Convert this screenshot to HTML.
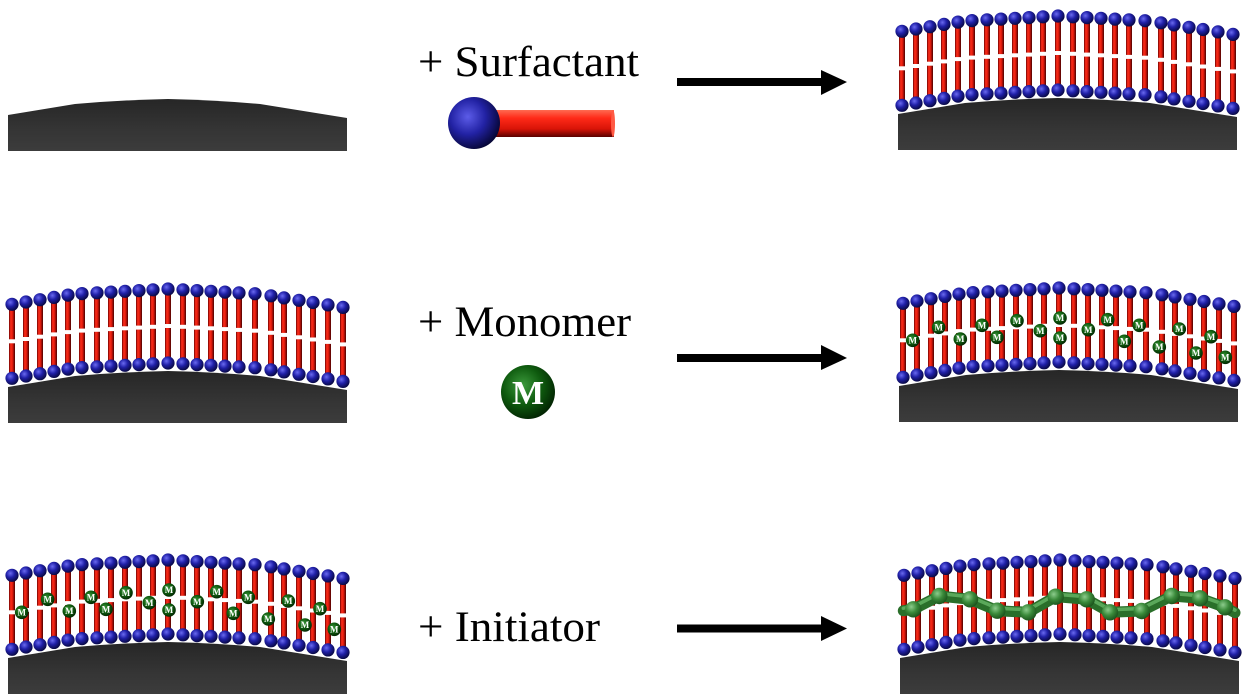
<!DOCTYPE html>
<html>
<head>
<meta charset="utf-8">
<style>
html,body{margin:0;padding:0;background:#fff;}
svg{display:block;}
</style>
</head>
<body>
<svg width="1242" height="700" viewBox="0 0 1242 700" xmlns="http://www.w3.org/2000/svg">
<defs>
  <linearGradient id="tg" x1="0" y1="0" x2="1" y2="0">
    <stop offset="0" stop-color="#700000"/>
    <stop offset="0.3" stop-color="#ff2e1a"/>
    <stop offset="0.6" stop-color="#dd1a0c"/>
    <stop offset="1" stop-color="#4a0000"/>
  </linearGradient>
  <radialGradient id="hg" cx="0.38" cy="0.35" r="0.7">
    <stop offset="0" stop-color="#6a6af0"/>
    <stop offset="0.45" stop-color="#2020a8"/>
    <stop offset="1" stop-color="#06063a"/>
  </radialGradient>
  <radialGradient id="mg" cx="0.4" cy="0.38" r="0.65">
    <stop offset="0" stop-color="#3c9a3c"/>
    <stop offset="0.55" stop-color="#0e5a0e"/>
    <stop offset="1" stop-color="#022402"/>
  </radialGradient>
  <radialGradient id="pg" cx="0.38" cy="0.35" r="0.7">
    <stop offset="0" stop-color="#8ccc8c"/>
    <stop offset="0.5" stop-color="#3a8a3a"/>
    <stop offset="1" stop-color="#1a4f1a"/>
  </radialGradient>
  <linearGradient id="sg" x1="0" y1="0" x2="0" y2="1">
    <stop offset="0" stop-color="#262626"/>
    <stop offset="0.6" stop-color="#353535"/>
    <stop offset="1" stop-color="#3c3c3c"/>
  </linearGradient>
  <linearGradient id="rod" x1="0" y1="0" x2="0" y2="1">
    <stop offset="0" stop-color="#ff6a50"/>
    <stop offset="0.3" stop-color="#ff2a18"/>
    <stop offset="0.7" stop-color="#d81408"/>
    <stop offset="1" stop-color="#5a0000"/>
  </linearGradient>
  <radialGradient id="ball" cx="0.38" cy="0.38" r="0.68">
    <stop offset="0" stop-color="#5c5ce8"/>
    <stop offset="0.5" stop-color="#2222a4"/>
    <stop offset="1" stop-color="#04042e"/>
  </radialGradient>

  <path id="sub" d="M0,16 L67,5 Q113,1 160,0 Q206,1 252,5 L339,19 V52 H0 Z" fill="url(#sg)"/>

  <g id="lp">
    <rect x="-3" y="0" width="6" height="35" fill="url(#tg)"/>
    <rect x="-3" y="39" width="6" height="35" fill="url(#tg)"/>
    <circle cx="0" cy="0" r="6.6" fill="url(#hg)"/>
    <circle cx="0" cy="74" r="6.6" fill="url(#hg)"/>
  </g>

  <g id="bl">
    <use href="#sub"/>
    <use href="#lp" x="4" y="-66.7"/>
    <use href="#lp" x="18" y="-69"/>
    <use href="#lp" x="32" y="-71.3"/>
    <use href="#lp" x="46" y="-73.6"/>
    <use href="#lp" x="60" y="-75.9"/>
    <use href="#lp" x="74" y="-77.4"/>
    <use href="#lp" x="89" y="-78.2"/>
    <use href="#lp" x="103" y="-78.9"/>
    <use href="#lp" x="117" y="-79.7"/>
    <use href="#lp" x="131" y="-80.4"/>
    <use href="#lp" x="145" y="-81.2"/>
    <use href="#lp" x="160" y="-82"/>
    <use href="#lp" x="175" y="-81.2"/>
    <use href="#lp" x="189" y="-80.4"/>
    <use href="#lp" x="203" y="-79.7"/>
    <use href="#lp" x="217" y="-78.9"/>
    <use href="#lp" x="231" y="-78.1"/>
    <use href="#lp" x="247" y="-77.3"/>
    <use href="#lp" x="263" y="-75.2"/>
    <use href="#lp" x="276" y="-73.1"/>
    <use href="#lp" x="291" y="-70.7"/>
    <use href="#lp" x="305" y="-68.5"/>
    <use href="#lp" x="320" y="-66.1"/>
    <use href="#lp" x="335" y="-63.6"/>
  </g>
</defs>

<!-- Row 1 -->
<use href="#sub" x="8" y="99"/>
<text x="418" y="76" font-family="Liberation Serif, serif" font-size="43" fill="#000" textLength="221" lengthAdjust="spacingAndGlyphs">+ Surfactant</text>
<rect x="494" y="110" width="120" height="27" fill="url(#rod)"/>
<ellipse cx="613" cy="123.5" rx="2" ry="13.5" fill="#ff5a44"/>
<circle cx="474" cy="123" r="26" fill="url(#ball)"/>
<rect x="677" y="78" width="146" height="8" fill="#000"/>
<polygon points="821,70 847,82 821,95" fill="#000"/>
<use href="#bl" x="898" y="98"/>

<!-- Row 2 -->
<use href="#bl" x="8" y="371"/>
<text x="418" y="336" font-family="Liberation Serif, serif" font-size="43" fill="#000" textLength="213" lengthAdjust="spacingAndGlyphs">+ Monomer</text>
<circle cx="528" cy="392" r="27" fill="url(#mg)"/>
<text x="528" y="404" font-family="Liberation Serif, serif" font-size="34" font-weight="bold" fill="#fff" text-anchor="middle">M</text>
<rect x="677" y="354" width="146" height="8" fill="#000"/>
<polygon points="821,345 847,358 821,370" fill="#000"/>
<use href="#bl" x="899" y="370"/>
<g transform="translate(899,370)" font-family="Liberation Serif, serif" font-size="9" font-weight="bold" fill="#fff" text-anchor="middle">
  <circle cx="13.7" cy="-29.7" r="6.8" fill="url(#mg)"/><text x="13.7" y="-26.6">M</text>
  <circle cx="39.7" cy="-42.7" r="6.8" fill="url(#mg)"/><text x="39.7" y="-39.6">M</text>
  <circle cx="61.3" cy="-31" r="6.8" fill="url(#mg)"/><text x="61.3" y="-27.9">M</text>
  <circle cx="83" cy="-44.7" r="6.8" fill="url(#mg)"/><text x="83" y="-41.6">M</text>
  <circle cx="98" cy="-32.7" r="6.8" fill="url(#mg)"/><text x="98" y="-29.6">M</text>
  <circle cx="118" cy="-49.3" r="6.8" fill="url(#mg)"/><text x="118" y="-46.2">M</text>
  <circle cx="141.3" cy="-39.3" r="6.8" fill="url(#mg)"/><text x="141.3" y="-36.2">M</text>
  <circle cx="161" cy="-52" r="6.8" fill="url(#mg)"/><text x="161" y="-48.9">M</text>
  <circle cx="161" cy="-32" r="6.8" fill="url(#mg)"/><text x="161" y="-28.9">M</text>
  <circle cx="189.3" cy="-40.3" r="6.8" fill="url(#mg)"/><text x="189.3" y="-37.2">M</text>
  <circle cx="208.7" cy="-50.3" r="6.8" fill="url(#mg)"/><text x="208.7" y="-47.2">M</text>
  <circle cx="225.3" cy="-28.7" r="6.8" fill="url(#mg)"/><text x="225.3" y="-25.6">M</text>
  <circle cx="240.3" cy="-44.7" r="6.8" fill="url(#mg)"/><text x="240.3" y="-41.6">M</text>
  <circle cx="260.3" cy="-23" r="6.8" fill="url(#mg)"/><text x="260.3" y="-19.9">M</text>
  <circle cx="280.3" cy="-41" r="6.8" fill="url(#mg)"/><text x="280.3" y="-37.9">M</text>
  <circle cx="297" cy="-17" r="6.8" fill="url(#mg)"/><text x="297" y="-13.9">M</text>
  <circle cx="312" cy="-33.3" r="6.8" fill="url(#mg)"/><text x="312" y="-30.2">M</text>
  <circle cx="326.3" cy="-12.7" r="6.8" fill="url(#mg)"/><text x="326.3" y="-9.6">M</text>
</g>

<!-- Row 3 -->
<use href="#bl" x="8" y="642"/>
<g transform="translate(8,642)" font-family="Liberation Serif, serif" font-size="9" font-weight="bold" fill="#fff" text-anchor="middle">
  <circle cx="13.7" cy="-29.7" r="6.8" fill="url(#mg)"/><text x="13.7" y="-26.6">M</text>
  <circle cx="39.7" cy="-42.7" r="6.8" fill="url(#mg)"/><text x="39.7" y="-39.6">M</text>
  <circle cx="61.3" cy="-31" r="6.8" fill="url(#mg)"/><text x="61.3" y="-27.9">M</text>
  <circle cx="83" cy="-44.7" r="6.8" fill="url(#mg)"/><text x="83" y="-41.6">M</text>
  <circle cx="98" cy="-32.7" r="6.8" fill="url(#mg)"/><text x="98" y="-29.6">M</text>
  <circle cx="118" cy="-49.3" r="6.8" fill="url(#mg)"/><text x="118" y="-46.2">M</text>
  <circle cx="141.3" cy="-39.3" r="6.8" fill="url(#mg)"/><text x="141.3" y="-36.2">M</text>
  <circle cx="161" cy="-52" r="6.8" fill="url(#mg)"/><text x="161" y="-48.9">M</text>
  <circle cx="161" cy="-32" r="6.8" fill="url(#mg)"/><text x="161" y="-28.9">M</text>
  <circle cx="189.3" cy="-40.3" r="6.8" fill="url(#mg)"/><text x="189.3" y="-37.2">M</text>
  <circle cx="208.7" cy="-50.3" r="6.8" fill="url(#mg)"/><text x="208.7" y="-47.2">M</text>
  <circle cx="225.3" cy="-28.7" r="6.8" fill="url(#mg)"/><text x="225.3" y="-25.6">M</text>
  <circle cx="240.3" cy="-44.7" r="6.8" fill="url(#mg)"/><text x="240.3" y="-41.6">M</text>
  <circle cx="260.3" cy="-23" r="6.8" fill="url(#mg)"/><text x="260.3" y="-19.9">M</text>
  <circle cx="280.3" cy="-41" r="6.8" fill="url(#mg)"/><text x="280.3" y="-37.9">M</text>
  <circle cx="297" cy="-17" r="6.8" fill="url(#mg)"/><text x="297" y="-13.9">M</text>
  <circle cx="312" cy="-33.3" r="6.8" fill="url(#mg)"/><text x="312" y="-30.2">M</text>
  <circle cx="326.3" cy="-12.7" r="6.8" fill="url(#mg)"/><text x="326.3" y="-9.6">M</text>
</g>
<text x="418" y="641" font-family="Liberation Serif, serif" font-size="43" fill="#000" textLength="182" lengthAdjust="spacingAndGlyphs">+ Initiator</text>
<rect x="677" y="624.5" width="146" height="8" fill="#000"/>
<polygon points="821,616 847,628.5 821,641" fill="#000"/>
<use href="#bl" x="900" y="642"/>
<g>
  <polyline points="903.3,610.7 913.3,609.3 939.3,596 970,599.3 997.3,610.7 1028.3,612.3 1055.7,596.7 1086.7,599.3 1110,612.3 1141.7,611 1171.7,596 1200,598.3 1225,607.3 1235,612.7" fill="none" stroke="#2a6f2a" stroke-width="11" stroke-linejoin="round" stroke-linecap="round"/>
  <polyline points="903.3,608.2 913.3,606.8 939.3,593.5 970,596.8 997.3,608.2 1028.3,609.8 1055.7,594.2 1086.7,596.8 1110,609.8 1141.7,608.5 1171.7,593.5 1200,595.8 1225,604.8 1235,610.2" fill="none" stroke="#5aa85a" stroke-width="3.5" stroke-linejoin="round" stroke-linecap="round"/>
  <circle cx="913.3" cy="609.3" r="8.2" fill="url(#pg)"/>
  <circle cx="939.3" cy="596" r="8.2" fill="url(#pg)"/>
  <circle cx="970" cy="599.3" r="8.2" fill="url(#pg)"/>
  <circle cx="997.3" cy="610.7" r="8.2" fill="url(#pg)"/>
  <circle cx="1028.3" cy="612.3" r="8.2" fill="url(#pg)"/>
  <circle cx="1055.7" cy="596.7" r="8.2" fill="url(#pg)"/>
  <circle cx="1086.7" cy="599.3" r="8.2" fill="url(#pg)"/>
  <circle cx="1110" cy="612.3" r="8.2" fill="url(#pg)"/>
  <circle cx="1141.7" cy="611" r="8.2" fill="url(#pg)"/>
  <circle cx="1171.7" cy="596" r="8.2" fill="url(#pg)"/>
  <circle cx="1200" cy="598.3" r="8.2" fill="url(#pg)"/>
  <circle cx="1225" cy="607.3" r="8.2" fill="url(#pg)"/>
</g>
</svg>
</body>
</html>
